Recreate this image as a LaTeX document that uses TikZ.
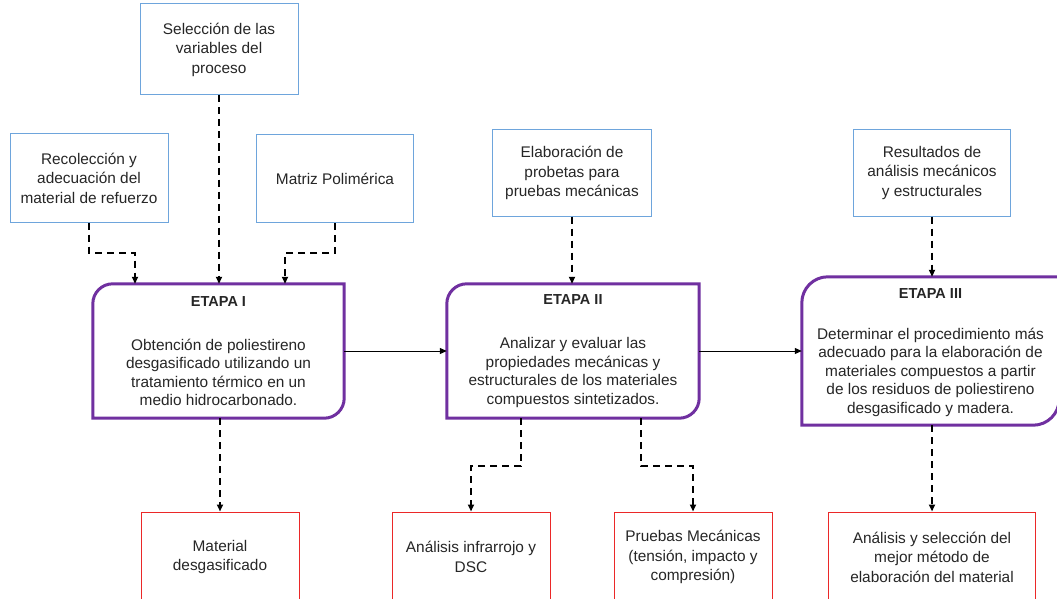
\documentclass[tikz,border=0pt]{standalone}
\usepackage{fontspec}
\setmainfont{Liberation Sans}
\usetikzlibrary{arrows.meta,calc}
\definecolor{boxblue}{RGB}{110,165,220}
\definecolor{boxred}{RGB}{235,40,40}
\definecolor{stagepurple}{RGB}{112,48,160}
\newcommand\stagetitle[2]{{\rule{0pt}{#1}\bfseries\fontsize{14.5}{18.5}\selectfont #2}}
\tikzset{
  x=1pt, y=-1pt,
  txt/.style={font=\fontsize{15.4}{19.5}\selectfont, text=black!85, align=center, inner sep=0pt},
  bluebox/.style={txt, draw=boxblue, line width=1pt, minimum width=158pt, minimum height=88pt},
  redbox/.style={txt, draw=boxred, line width=1pt, minimum width=158pt, minimum height=90pt},
  stagebox/.style={txt, font=\fontsize{15.4}{18.5}\selectfont, minimum width=251pt, minimum height=134pt},
  stageline/.style={draw=stagepurple, line width=3pt},
  dasharrow/.style={draw=black, line width=2pt, dash pattern=on 7pt off 5pt, -{Triangle[length=7pt,width=6pt]}},
  solidarrow/.style={draw=black, line width=1pt, -{Triangle[length=7pt,width=6pt]}}
}
\begin{document}
\begin{tikzpicture}
\useasboundingbox[fill=white] (0,0) rectangle (1057,599);
% top boxes
\node[bluebox, minimum height=91pt] (sel) at (219,49.5) {Selección de las\\variables del\\proceso};
\node[bluebox] (rec) at (89,178) {Recolección y\\adecuación del\\material de refuerzo};
\node[bluebox, minimum width=157pt] (mat) at (335,178.5) {Matriz Polimérica};
\node[bluebox, minimum width=159pt, minimum height=86pt] (ela) at (572,173) {Elaboración de\\probetas para\\pruebas mecánicas};
\node[bluebox, minimum width=157pt, minimum height=86pt] (res) at (932,173) {Resultados de\\análisis mecánicos\\y estructurales};
% stage boxes
\node[stagebox] (e1) at (218.5,351) {\stagetitle{10.4pt}{ETAPA I}\\[25.5pt]Obtención de poliestireno\\desgasificado utilizando un\\tratamiento térmico en un\\medio hidrocarbonado.};
\node[stagebox, minimum width=252pt] (e2) at (573,351) {\stagetitle{10.4pt}{ETAPA II}\\[25.5pt]Analizar y evaluar las\\propiedades mecánicas y\\estructurales de los materiales\\compuestos sintetizados.};
\node[stagebox, minimum width=257pt, minimum height=148pt] (e3) at (930.5,351) {\stagetitle{12.3pt}{ETAPA III}\\[22.5pt]Determinar el procedimiento más\\adecuado para la elaboración de\\materiales compuestos a partir\\de los residuos de poliestireno\\desgasificado y madera.};
\foreach \n/\r in {e1/20pt,e2/20pt,e3/26pt}{
  \draw[stageline] (\n.south west) -- ([yshift=-\r]\n.north west) arc[start angle=180,end angle=90,radius=\r] -- (\n.north east) -- ([yshift=\r]\n.south east) arc[start angle=0,end angle=-90,radius=\r] -- cycle;
}
% bottom boxes
\node[redbox] (mdes) at (220,557) {Material\\desgasificado};
\node[redbox] (inf) at (471,557) {Análisis infrarrojo y\\DSC};
\node[redbox] (pru) at (693,557) {Pruebas Mecánicas\\(tensión, impacto y\\compresión)};
\node[redbox, minimum width=207pt] (ana) at (932,557) {Análisis y selección del\\mejor método de\\elaboración del material};
% connectors
\draw[dasharrow] (sel.south) -- (sel.south |- e1.north);
\draw[dasharrow] (rec.south) -- ++(0,30) -| ([xshift=-83.5pt]e1.north);
\draw[dasharrow] (mat.south) -- ++(0,30) -| ([xshift=66.5pt]e1.north);
\draw[dasharrow] (ela.south) -- (ela.south |- e2.north);
\draw[dasharrow] (res.south) -- (res.south |- e3.north);
\draw[solidarrow] (e1.east) -- (e2.west);
\draw[solidarrow] (e2.east) -- (e3.west);
\draw[dasharrow] (e1.south -| mdes.north) -- (mdes.north);
\draw[dasharrow] ([xshift=-52pt]e2.south) -- ++(0,48) -| (inf.north);
\draw[dasharrow] ([xshift=68pt]e2.south) -- ++(0,48) -| (pru.north);
\draw[dasharrow] (ana.north |- e3.south) -- (ana.north);
\end{tikzpicture}
\end{document}
